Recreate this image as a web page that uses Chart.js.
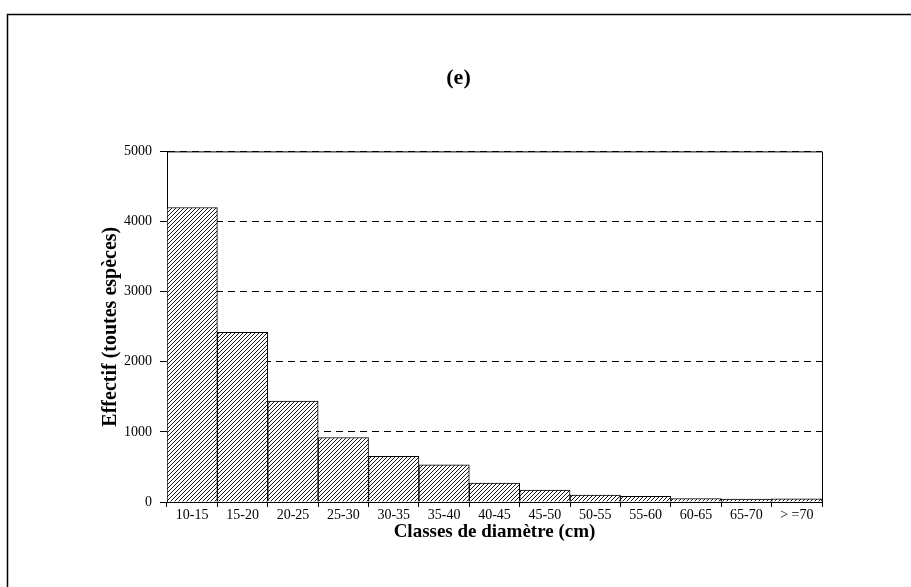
<!DOCTYPE html>
<html>
<head>
<meta charset="utf-8">
<script src="https://cdn.jsdelivr.net/npm/chart.js@4.4.1/dist/chart.umd.min.js"></script>
<style>
  html, body { margin: 0; padding: 0; background: #fff; }
  #wrap { width: 911px; height: 587px; position: relative; }
</style>
</head>
<body>
<div id="wrap"><canvas id="bar-chart" width="911" height="587"></canvas></div>
<script>
// diameter classes and counts (all species)
const classes = ['10-15', '15-20', '20-25', '25-30', '30-35', '35-40', '40-45',
    '45-50', '50-55', '55-60', '60-65', '65-70', '> =70'];
const effectifs = [4200, 2420, 1440, 920, 650, 530, 270, 170, 100, 80, 50, 40, 45];
const yTicks = [0, 1000, 2000, 3000, 4000, 5000];

const serif = 'Liberation Serif';

// diagonal hatch used for the bars
function hatch() {
    let c = document.createElement('canvas');
    c.width = 4;
    c.height = 4;
    let g = c.getContext('2d');
    g.fillStyle = '#fff';
    g.fillRect(0, 0, 4, 4);
    g.strokeStyle = '#1a1a1a';
    g.lineWidth = 1;
    g.beginPath();
    g.moveTo(-1, 5); g.lineTo(5, -1);
    g.moveTo(-1, 1); g.lineTo(1, -1);
    g.moveTo(3, 5); g.lineTo(5, 3);
    g.stroke();
    return g.createPattern(c, 'repeat');
}

// page frame + top/right edge of the plot box
const frame = {
    id: 'frame',
    beforeDraw(chart) {
        let ctx = chart.ctx;
        ctx.save();
        ctx.strokeStyle = '#000';
        ctx.lineWidth = 1.5;
        ctx.strokeRect(7.5, 14.5, 960, 700);
        ctx.restore();
    },
    afterDatasetsDraw(chart) {
        let a = chart.chartArea;
        let ctx = chart.ctx;
        ctx.save();
        ctx.strokeStyle = '#000';
        ctx.lineWidth = 1;
        ctx.beginPath();
        ctx.moveTo(a.left, a.top + 0.5);
        ctx.lineTo(a.right + 0.5, a.top + 0.5);
        ctx.lineTo(a.right + 0.5, a.bottom);
        ctx.stroke();
        ctx.restore();
    }
};

new Chart(document.getElementById('bar-chart'), {
    type: 'bar',
    data: {
        labels: classes,
        datasets: [{
            data: effectifs,
            backgroundColor: hatch(),
            borderColor: '#000',
            borderWidth: 1,
            categoryPercentage: 1,
            barPercentage: 1,
        }]
    },
    plugins: [frame],
    options: {
        responsive: false,
        animation: false,
        layout: { padding: { left: 95, right: 89, top: 0, bottom: 42 } },
        plugins: {
            legend: { display: false },
            tooltip: { enabled: false },
            title: {
                display: true,
                text: '(e)',
                color: '#000',
                font: { family: serif, size: 22, weight: 'bold' },
                padding: { top: 65, bottom: 60 }
            }
        },
        scales: {
            x: {
                afterFit: s => { s.height = 43 },
                grid: {
                    drawOnChartArea: false,
                    drawTicks: true,
                    tickLength: 5,
                    color: '#000',
                    offset: true,
                },
                border: { display: true, color: '#000', width: 1 },
                ticks: {
                    color: '#000',
                    padding: 0,
                    maxRotation: 0,
                    autoSkip: false,
                    font: { family: serif, size: 14 }
                },
                title: {
                    display: true,
                    text: 'Classes de diamètre (cm)',
                    color: '#000',
                    padding: { top: 0, bottom: 2 },
                    font: { family: serif, size: 19, weight: 'bold' }
                }
            },
            y: {
                min: 0,
                max: 5000,
                afterFit: s => { s.width = 72 },
                afterBuildTicks: s => { s.ticks = yTicks.map(v => ({ value: v })) },
                grid: {
                    color: '#000',
                    lineWidth: 1,
                    tickLength: 7,
                },
                border: { display: true, color: '#000', width: 1, dash: [7, 5] },
                ticks: {
                    color: '#000',
                    padding: 8,
                    font: { family: serif, size: 14 },
                    callback: v => String(v)
                },
                title: {
                    display: true,
                    text: 'Effectif (toutes espèces)',
                    color: '#000',
                    padding: { top: 4, bottom: 0 },
                    font: { family: serif, size: 20, weight: 'bold' }
                }
            }
        }
    }
});
</script>
</body>
</html>
